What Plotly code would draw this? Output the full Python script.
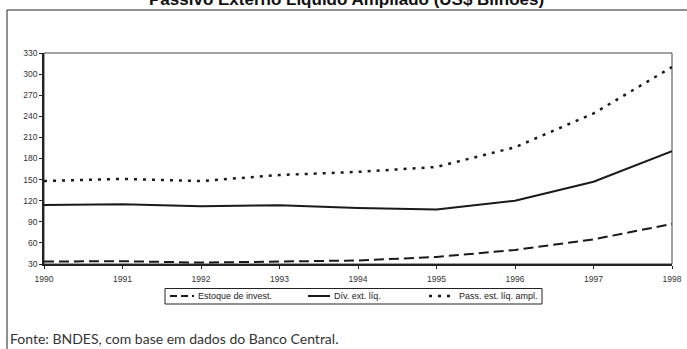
import plotly.graph_objects as go

years = [1990, 1991, 1992, 1993, 1994, 1995, 1996, 1997, 1998]
estoque_invest = [33.5, 34, 32, 33, 35, 40, 50, 65, 87]
div_ext_liq = [114, 115, 112, 113.5, 109.5, 107.5, 120, 147, 190.5]
pass_ext_liq_ampl = [148, 151, 148, 156.5, 161, 168, 196, 244, 310]

series_names = ["Estoque de invest.", "Dív. ext. líq.", "Pass. est. líq. ampl."]
title_text = "Passivo Externo Líquido Ampliado (US$ Bilhões)"
source_text = "Fonte: BNDES, com base em dados do Banco Central."

W, H = 687, 349
L, R, T, B = 44, 15, 53, 85
pw = W - L - R
ph = H - T - B

def px_x(px):
    return (px - L) / pw

def px_y(py):
    return (H - B - py) / ph

line_color = "#1a1a1a"
dashes = ["10px,5px", "solid", "3px,6px"]
widths = [2, 2, 2.5]
series = [estoque_invest, div_ext_liq, pass_ext_liq_ampl]

fig = go.Figure()
for name, vals, d, w in zip(series_names, series, dashes, widths):
    fig.add_trace(go.Scatter(x=years, y=vals, mode="lines", name=name,
                             line=dict(color=line_color, width=w, dash=d)))

axis_font = dict(family="Liberation Sans, Arial, sans-serif", size=8.5, color="#333")
leg_font = dict(family="Liberation Sans, Arial, sans-serif", size=9, color="#222")

shapes = [
    dict(type="rect", xref="paper", yref="paper", x0=0, x1=1, y0=0, y1=1,
         line=dict(color="#444", width=1), layer="below"),
    dict(type="rect", xref="paper", yref="paper",
         x0=px_x(7), x1=px_x(720), y0=px_y(400), y1=px_y(10),
         line=dict(color="#222", width=1), layer="below"),
    # legend box
    dict(type="rect", xref="paper", yref="paper",
         x0=px_x(165), x1=px_x(542), y0=px_y(304), y1=px_y(288.5),
         line=dict(color="#222", width=1), fillcolor="white"),
]
annotations = [
    dict(text="<b>" + title_text + "</b>", xref="paper", yref="paper",
         x=px_x(346), y=px_y(-1), xanchor="center", yanchor="middle",
         showarrow=False, font=dict(family="Liberation Sans, Arial, sans-serif", size=17, color="#111")),
    dict(text=source_text, xref="paper", yref="paper",
         x=px_x(8), y=px_y(338), xanchor="left", yanchor="middle",
         showarrow=False, font=dict(family="Lato, sans-serif", size=14, color="#333")),
]

leg_sym = [(170, 194), (308, 330), (429, 455)]
leg_text_x = [196, 332, 457]
leg_y = 296
for name, (s0, s1), tx, d, w in zip(series_names, leg_sym, leg_text_x, dashes, widths):
    shapes.append(dict(type="line", xref="paper", yref="paper",
                       x0=px_x(s0), x1=px_x(s1), y0=px_y(leg_y), y1=px_y(leg_y),
                       line=dict(color=line_color, width=w, dash=("7px,4px" if d == "10px,5px" else d))))
    annotations.append(dict(text=name, xref="paper", yref="paper", x=px_x(tx), y=px_y(leg_y),
                            xanchor="left", yanchor="middle", showarrow=False, font=leg_font))

fig.update_layout(
    width=W, height=H,
    margin=dict(l=L, r=R, t=T, b=B, autoexpand=False),
    paper_bgcolor="white", plot_bgcolor="white",
    showlegend=False,
    xaxis=dict(range=[1990, 1998], tickmode="array", tickvals=years,
               ticktext=[str(y) for y in years], showgrid=False, zeroline=False,
               showline=True, linecolor="#222", linewidth=1.5,
               ticks="outside", ticklen=3, tickcolor="#222", tickfont=axis_font,
               ticklabelstandoff=3, automargin=False),
    yaxis=dict(range=[30, 330], tick0=30, dtick=30, showgrid=False, zeroline=False,
               showline=True, linecolor="#222", linewidth=1.5,
               ticks="outside", ticklen=3, tickcolor="#222", tickfont=axis_font,
               automargin=False),
    shapes=shapes,
    annotations=annotations,
)

fig.write_html("out.html", config={"displayModeBar": False},
               post_script="document.body.style.margin='0';document.body.style.overflow='hidden';")
